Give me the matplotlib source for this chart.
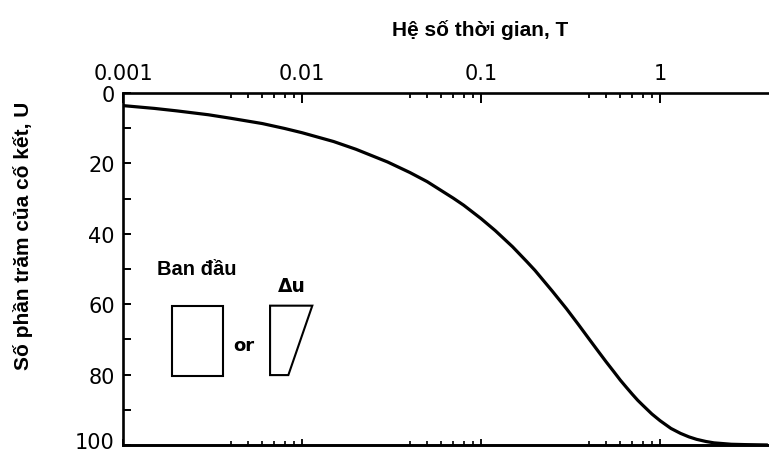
import matplotlib
matplotlib.use("Agg")
import matplotlib.pyplot as plt
import matplotlib.transforms as mtransforms
from matplotlib.ticker import FixedLocator, NullFormatter
from matplotlib.patches import Polygon

# degree of consolidation U (%) against time factor T
T = [0.001, 0.0015, 0.002, 0.003, 0.004, 0.006, 0.008, 0.01, 0.015, 0.02,
     0.03, 0.04, 0.05, 0.07, 0.08, 0.1, 0.12, 0.15, 0.18, 0.2,
     0.25, 0.3, 0.35, 0.4, 0.45, 0.5, 0.55, 0.6, 0.65, 0.7,
     0.75, 0.8, 0.9, 1.0, 1.15, 1.3, 1.45, 1.6, 1.8, 2.0,
     2.5, 3.0, 4.0]
U = [3.6, 4.4, 5.1, 6.2, 7.2, 8.7, 10.1, 11.3, 13.8, 16.0,
     19.6, 22.6, 25.2, 29.9, 31.9, 35.7, 39.1, 43.7, 47.9, 50.4,
     56.3, 61.3, 65.8, 69.8, 73.3, 76.4, 79.1, 81.6, 83.7, 85.6,
     87.3, 88.7, 91.2, 93.1, 95.3, 96.7, 97.7, 98.4, 99.0, 99.4,
     99.8, 99.9, 100.0]

x_major = [0.001, 0.01, 0.1, 1]
x_labels = ["0.001", "0.01", "0.1", "1"]
x_minor = [d * s for d in (0.001, 0.01, 0.1) for s in (4, 5, 6, 7, 8, 9)]
y_major = [0, 20, 40, 60, 80, 100]
y_minor = [10, 30, 50, 70, 90]

bold = dict(family="Liberation Sans", weight="bold", fontsize=15)

fig = plt.figure(figsize=(7.69, 4.56), dpi=100)
ax = fig.add_axes([0.16, 0.022, 0.84, 0.772])

ax.plot(T, U, color="black", lw=2.3, solid_capstyle="butt", solid_joinstyle="round")

ax.set_xscale("log")
ax.set_xlim(0.001, 4.06)
ax.set_ylim(100, 0)

for side in ("top", "bottom", "left"):
    ax.spines[side].set_linewidth(1.9)
ax.spines["right"].set_visible(False)

# time factor axis: labels on top
ax.xaxis.tick_top()
ax.xaxis.set_major_locator(FixedLocator(x_major))
ax.xaxis.set_minor_locator(FixedLocator(x_minor))
ax.set_xticklabels(x_labels)
ax.xaxis.set_minor_formatter(NullFormatter())
ax.tick_params(axis="x", which="major", direction="in", length=7, width=1.4,
               pad=7, labelsize=15)
ax.tick_params(axis="x", which="minor", direction="in", length=3.6, width=1.3)

# short inward ticks along the bottom edge
bot = ax.secondary_xaxis("bottom")
bot.xaxis.set_major_locator(FixedLocator(x_major))
bot.xaxis.set_minor_locator(FixedLocator(x_minor))
bot.xaxis.set_major_formatter(NullFormatter())
bot.xaxis.set_minor_formatter(NullFormatter())
bot.tick_params(which="major", direction="in", length=4, width=1.3)
bot.tick_params(which="minor", direction="in", length=2.6, width=1.2)
bot.spines["bottom"].set_linewidth(1.9)

ax.yaxis.set_major_locator(FixedLocator(y_major))
ax.yaxis.set_minor_locator(FixedLocator(y_minor))
ax.set_yticklabels([str(v) for v in y_major])
ax.tick_params(axis="y", which="both", direction="in", length=5.5, width=1.4,
               pad=6, labelsize=15, right=False)

# lift the bottom "100" label a little so it stays inside the figure
lift = mtransforms.ScaledTranslation(0, 5 / 100, fig.dpi_scale_trans)
last = ax.get_yticklabels()[-1]
last.set_transform(last.get_transform() + lift)

fig.text(480 / 769, 1 - 30 / 456, "Hệ số thời gian, T", ha="center", va="center", **bold)
fig.text(23 / 769, 1 - 236 / 456, "Số phần trăm của cố kết, U", rotation=90,
         ha="center", va="center", **bold)

# sketch of the initial excess pore pressure shapes
ax.text(0.1146, 0.50, "Ban đầu", transform=ax.transAxes, ha="center", va="center",
        family="Liberation Sans", weight="bold", fontsize=14.5)
rect = Polygon([(0.0763, 0.3957), (0.1553, 0.3957), (0.1553, 0.1969), (0.0763, 0.1969)],
               closed=True, fill=False, lw=1.5, ec="black", transform=ax.transAxes)
trap = Polygon([(0.2276, 0.3957), (0.2930, 0.3957), (0.2559, 0.1985), (0.2276, 0.1985)],
               closed=True, fill=False, lw=1.5, ec="black", transform=ax.transAxes)
ax.add_patch(rect)
ax.add_patch(trap)
ax.text(0.1873, 0.283, "or", transform=ax.transAxes, ha="center", va="center",
        fontsize=13, weight="bold", family="DejaVu Sans")
ax.text(0.2616, 0.452, "Δu", transform=ax.transAxes, ha="center", va="center",
        fontsize=13.5, weight="bold", family="DejaVu Sans")

fig.savefig("out.png", dpi=100)
